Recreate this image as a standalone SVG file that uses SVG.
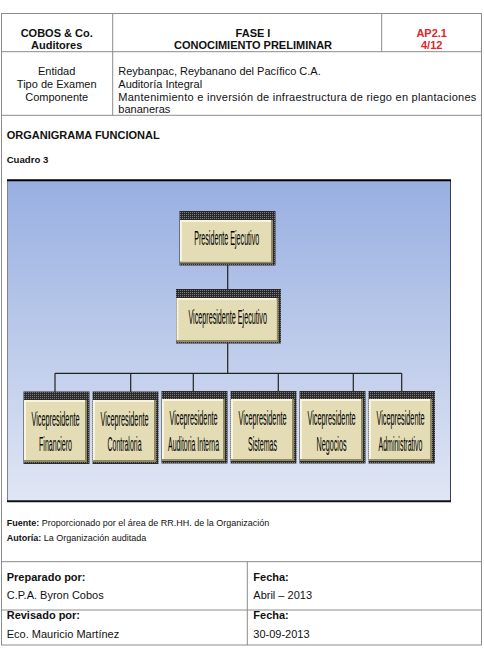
<svg xmlns="http://www.w3.org/2000/svg" width="484" height="653" viewBox="0 0 484 653">
<defs>
<linearGradient id="bg" x1="0" y1="0" x2="0" y2="1">
<stop offset="0" stop-color="#98afe1"/>
<stop offset="1" stop-color="#e0e6f4"/>
</linearGradient>
<pattern id="hatch" width="2" height="2" patternUnits="userSpaceOnUse">
<rect width="2" height="2" fill="#2a2a2a"/>
<rect width="1" height="1" fill="#7a7a7a"/>
</pattern>
<style>
.t{font-family:"Liberation Sans",Arial,sans-serif;fill:#111}
.h{font-size:11px;font-weight:bold}
.n{font-size:11px}
.s{font-size:9px}
.red{fill:#e3242b}
.grid{stroke:#8c8c8c;stroke-width:1;fill:none}
.dk{fill:url(#hatch)}
.sh{fill:#8f8966}
.hl{fill:#f8f4dd}
.bg{fill:#e3dcb5}
.bt{font-family:"Liberation Sans",Arial,sans-serif;font-size:19.5px;fill:#000;text-anchor:middle}
.conn{stroke:#222;stroke-width:1.2;fill:none}
</style>
</defs>
<rect width="484" height="653" fill="#fff"/>

<g id="table">
<rect class="grid" x="1.5" y="13.5" width="480" height="631.5"/>
<line class="grid" x1="1.5" y1="51.7" x2="481.5" y2="51.7"/>
<line class="grid" x1="1.5" y1="115.3" x2="481.5" y2="115.3"/>
<line class="grid" x1="112.7" y1="13.5" x2="112.7" y2="115.3"/>
<line class="grid" x1="381.7" y1="13.5" x2="381.7" y2="51.7"/>
<line class="grid" x1="1.5" y1="561.7" x2="481.5" y2="561.7"/>
<line class="grid" x1="1.5" y1="610" x2="481.5" y2="610"/>
<line class="grid" x1="247.3" y1="561.7" x2="247.3" y2="645"/>
</g>

<g id="header">
<text class="t h" x="56.7" y="36.5" text-anchor="middle">COBOS &amp; Co.</text>
<text class="t h" x="56.7" y="49" text-anchor="middle">Auditores</text>
<text class="t h" x="253" y="36.5" text-anchor="middle">FASE I</text>
<text class="t h" x="253" y="49" text-anchor="middle">CONOCIMIENTO PRELIMINAR</text>
<text class="t h red" x="431.7" y="36.5" text-anchor="middle">AP2.1</text>
<text class="t h red" x="431.7" y="49" text-anchor="middle">4/12</text>
<text class="t n" x="56.7" y="75" text-anchor="middle">Entidad</text>
<text class="t n" x="56.7" y="87.7" text-anchor="middle">Tipo de Examen</text>
<text class="t n" x="56.7" y="100.7" text-anchor="middle">Componente</text>
<text class="t n" x="118.3" y="75">Reybanpac, Reybanano del Pacífico C.A.</text>
<text class="t n" x="118.3" y="87.7">Auditoría Integral</text>
<text class="t n" x="118.3" y="100.7" textLength="358" lengthAdjust="spacing">Mantenimiento e inversión de infraestructura de riego en plantaciones</text>
<text class="t n" x="118.3" y="113">bananeras</text>
<text class="t h" x="6.7" y="139">ORGANIGRAMA FUNCIONAL</text>
<text class="t" x="6.7" y="162.5" font-size="9.6" font-weight="bold">Cuadro 3</text>
</g>

<g id="frame">
<rect x="7.5" y="180" width="443" height="321" fill="url(#bg)"/>
<line x1="7.5" y1="180" x2="7.5" y2="501" stroke="#7d8496" stroke-width="1"/>
<line x1="450.5" y1="180" x2="450.5" y2="501" stroke="#3a3f4a" stroke-width="1"/>
<line x1="7" y1="180.2" x2="451" y2="180.2" stroke="#000" stroke-width="2"/>
<line x1="7" y1="501.3" x2="451" y2="501.3" stroke="#111" stroke-width="2"/>
</g>

<g id="connectors">
<line class="conn" x1="227.7" y1="265" x2="227.7" y2="289"/>
<line class="conn" x1="227.7" y1="343" x2="227.7" y2="373.3"/>
<line class="conn" x1="55" y1="373.3" x2="401.7" y2="373.3"/>
<line class="conn" x1="55" y1="373.3" x2="55" y2="392"/>
<line class="conn" x1="130.7" y1="373.3" x2="130.7" y2="392"/>
<line class="conn" x1="193.3" y1="373.3" x2="193.3" y2="392"/>
<line class="conn" x1="278.3" y1="373.3" x2="278.3" y2="392"/>
<line class="conn" x1="353.3" y1="373.3" x2="353.3" y2="392"/>
<line class="conn" x1="401.7" y1="373.3" x2="401.7" y2="392"/>
</g>

<g id="n-presidente">
<rect class="dk" x="179.5" y="211" width="96" height="54.5"/>
<rect class="sh" x="180" y="220" width="93" height="43.5"/>
<rect class="hl" x="180" y="220" width="91" height="41.5"/>
<rect class="bg" x="182" y="222" width="89" height="39.5"/>
<text class="bt" transform="translate(226.7 245) scale(0.5 1)" textLength="130" lengthAdjust="spacingAndGlyphs">Presidente Ejecutivo</text>
</g>

<g id="n-vp-ejecutivo">
<rect class="dk" x="176" y="289" width="105" height="54.5"/>
<rect class="sh" x="176.5" y="298" width="102" height="44"/>
<rect class="hl" x="176.5" y="298" width="100" height="42"/>
<rect class="bg" x="178.5" y="300" width="98" height="40"/>
<text class="bt" transform="translate(227.7 324) scale(0.5 1)" textLength="157" lengthAdjust="spacingAndGlyphs">Vicepresidente Ejecutivo</text>
</g>

<g id="n-financiero">
<rect class="dk" x="23.5" y="391.5" width="66" height="72.5"/>
<rect class="sh" x="24" y="400" width="63" height="62"/>
<rect class="hl" x="24" y="400" width="61" height="60"/>
<rect class="bg" x="26" y="402" width="59" height="58"/>
<text class="bt" transform="translate(55.5 425.5) scale(0.5 1)" textLength="96" lengthAdjust="spacingAndGlyphs">Vicepresidente</text>
<text class="bt" transform="translate(55.5 451) scale(0.5 1)" textLength="66" lengthAdjust="spacingAndGlyphs">Financiero</text>
</g>

<g id="n-contraloria">
<rect class="dk" x="92.5" y="391.5" width="66" height="72.5"/>
<rect class="sh" x="93" y="400" width="63" height="62"/>
<rect class="hl" x="93" y="400" width="61" height="60"/>
<rect class="bg" x="95" y="402" width="59" height="58"/>
<text class="bt" transform="translate(124.5 425.5) scale(0.5 1)" textLength="96" lengthAdjust="spacingAndGlyphs">Vicepresidente</text>
<text class="bt" transform="translate(124.5 451) scale(0.5 1)" textLength="68" lengthAdjust="spacingAndGlyphs">Contraloria</text>
</g>

<g id="n-auditoria">
<rect class="dk" x="161.5" y="391" width="66" height="72.5"/>
<rect class="sh" x="162" y="399" width="63" height="62"/>
<rect class="hl" x="162" y="399" width="61" height="60"/>
<rect class="bg" x="164" y="401" width="59" height="58"/>
<text class="bt" transform="translate(193.5 424.5) scale(0.5 1)" textLength="96" lengthAdjust="spacingAndGlyphs">Vicepresidente</text>
<text class="bt" transform="translate(193.5 450.5) scale(0.5 1)" textLength="102" lengthAdjust="spacingAndGlyphs">Auditoria Interna</text>
</g>

<g id="n-sistemas">
<rect class="dk" x="230.5" y="391" width="66" height="72.5"/>
<rect class="sh" x="231" y="399" width="63" height="62"/>
<rect class="hl" x="231" y="399" width="61" height="60"/>
<rect class="bg" x="233" y="401" width="59" height="58"/>
<text class="bt" transform="translate(262.5 424.5) scale(0.5 1)" textLength="96" lengthAdjust="spacingAndGlyphs">Vicepresidente</text>
<text class="bt" transform="translate(262.5 450.5) scale(0.5 1)" textLength="58" lengthAdjust="spacingAndGlyphs">Sistemas</text>
</g>

<g id="n-negocios">
<rect class="dk" x="299.5" y="391" width="66" height="72.5"/>
<rect class="sh" x="300" y="399" width="63" height="62"/>
<rect class="hl" x="300" y="399" width="61" height="60"/>
<rect class="bg" x="302" y="401" width="59" height="58"/>
<text class="bt" transform="translate(331.5 424.5) scale(0.5 1)" textLength="96" lengthAdjust="spacingAndGlyphs">Vicepresidente</text>
<text class="bt" transform="translate(331.5 450.5) scale(0.5 1)" textLength="60" lengthAdjust="spacingAndGlyphs">Negocios</text>
</g>

<g id="n-administrativo">
<rect class="dk" x="368.5" y="391" width="66.5" height="72.5"/>
<rect class="sh" x="369" y="399" width="63" height="62"/>
<rect class="hl" x="369" y="399" width="61" height="60"/>
<rect class="bg" x="371" y="401" width="59" height="58"/>
<text class="bt" transform="translate(400.5 424.5) scale(0.5 1)" textLength="96" lengthAdjust="spacingAndGlyphs">Vicepresidente</text>
<text class="bt" transform="translate(400.5 450.5) scale(0.5 1)" textLength="88" lengthAdjust="spacingAndGlyphs">Administrativo</text>
</g>

<g id="footer">
<text class="t s" x="6.7" y="525.5"><tspan font-weight="bold">Fuente:</tspan> Proporcionado por el área de RR.HH. de la Organización</text>
<text class="t s" x="6.7" y="541"><tspan font-weight="bold">Autoría:</tspan> La Organización auditada</text>
<text class="t h" x="6.7" y="580.5">Preparado por:</text>
<text class="t n" x="6.7" y="599">C.P.A. Byron Cobos</text>
<text class="t h" x="6.7" y="619">Revisado por:</text>
<text class="t n" x="6.7" y="637.5">Eco. Mauricio Martínez</text>
<text class="t h" x="253.3" y="580.5">Fecha:</text>
<text class="t n" x="253.3" y="599">Abril – 2013</text>
<text class="t h" x="253.3" y="619">Fecha:</text>
<text class="t n" x="253.3" y="637.5">30-09-2013</text>
</g>
</svg>
